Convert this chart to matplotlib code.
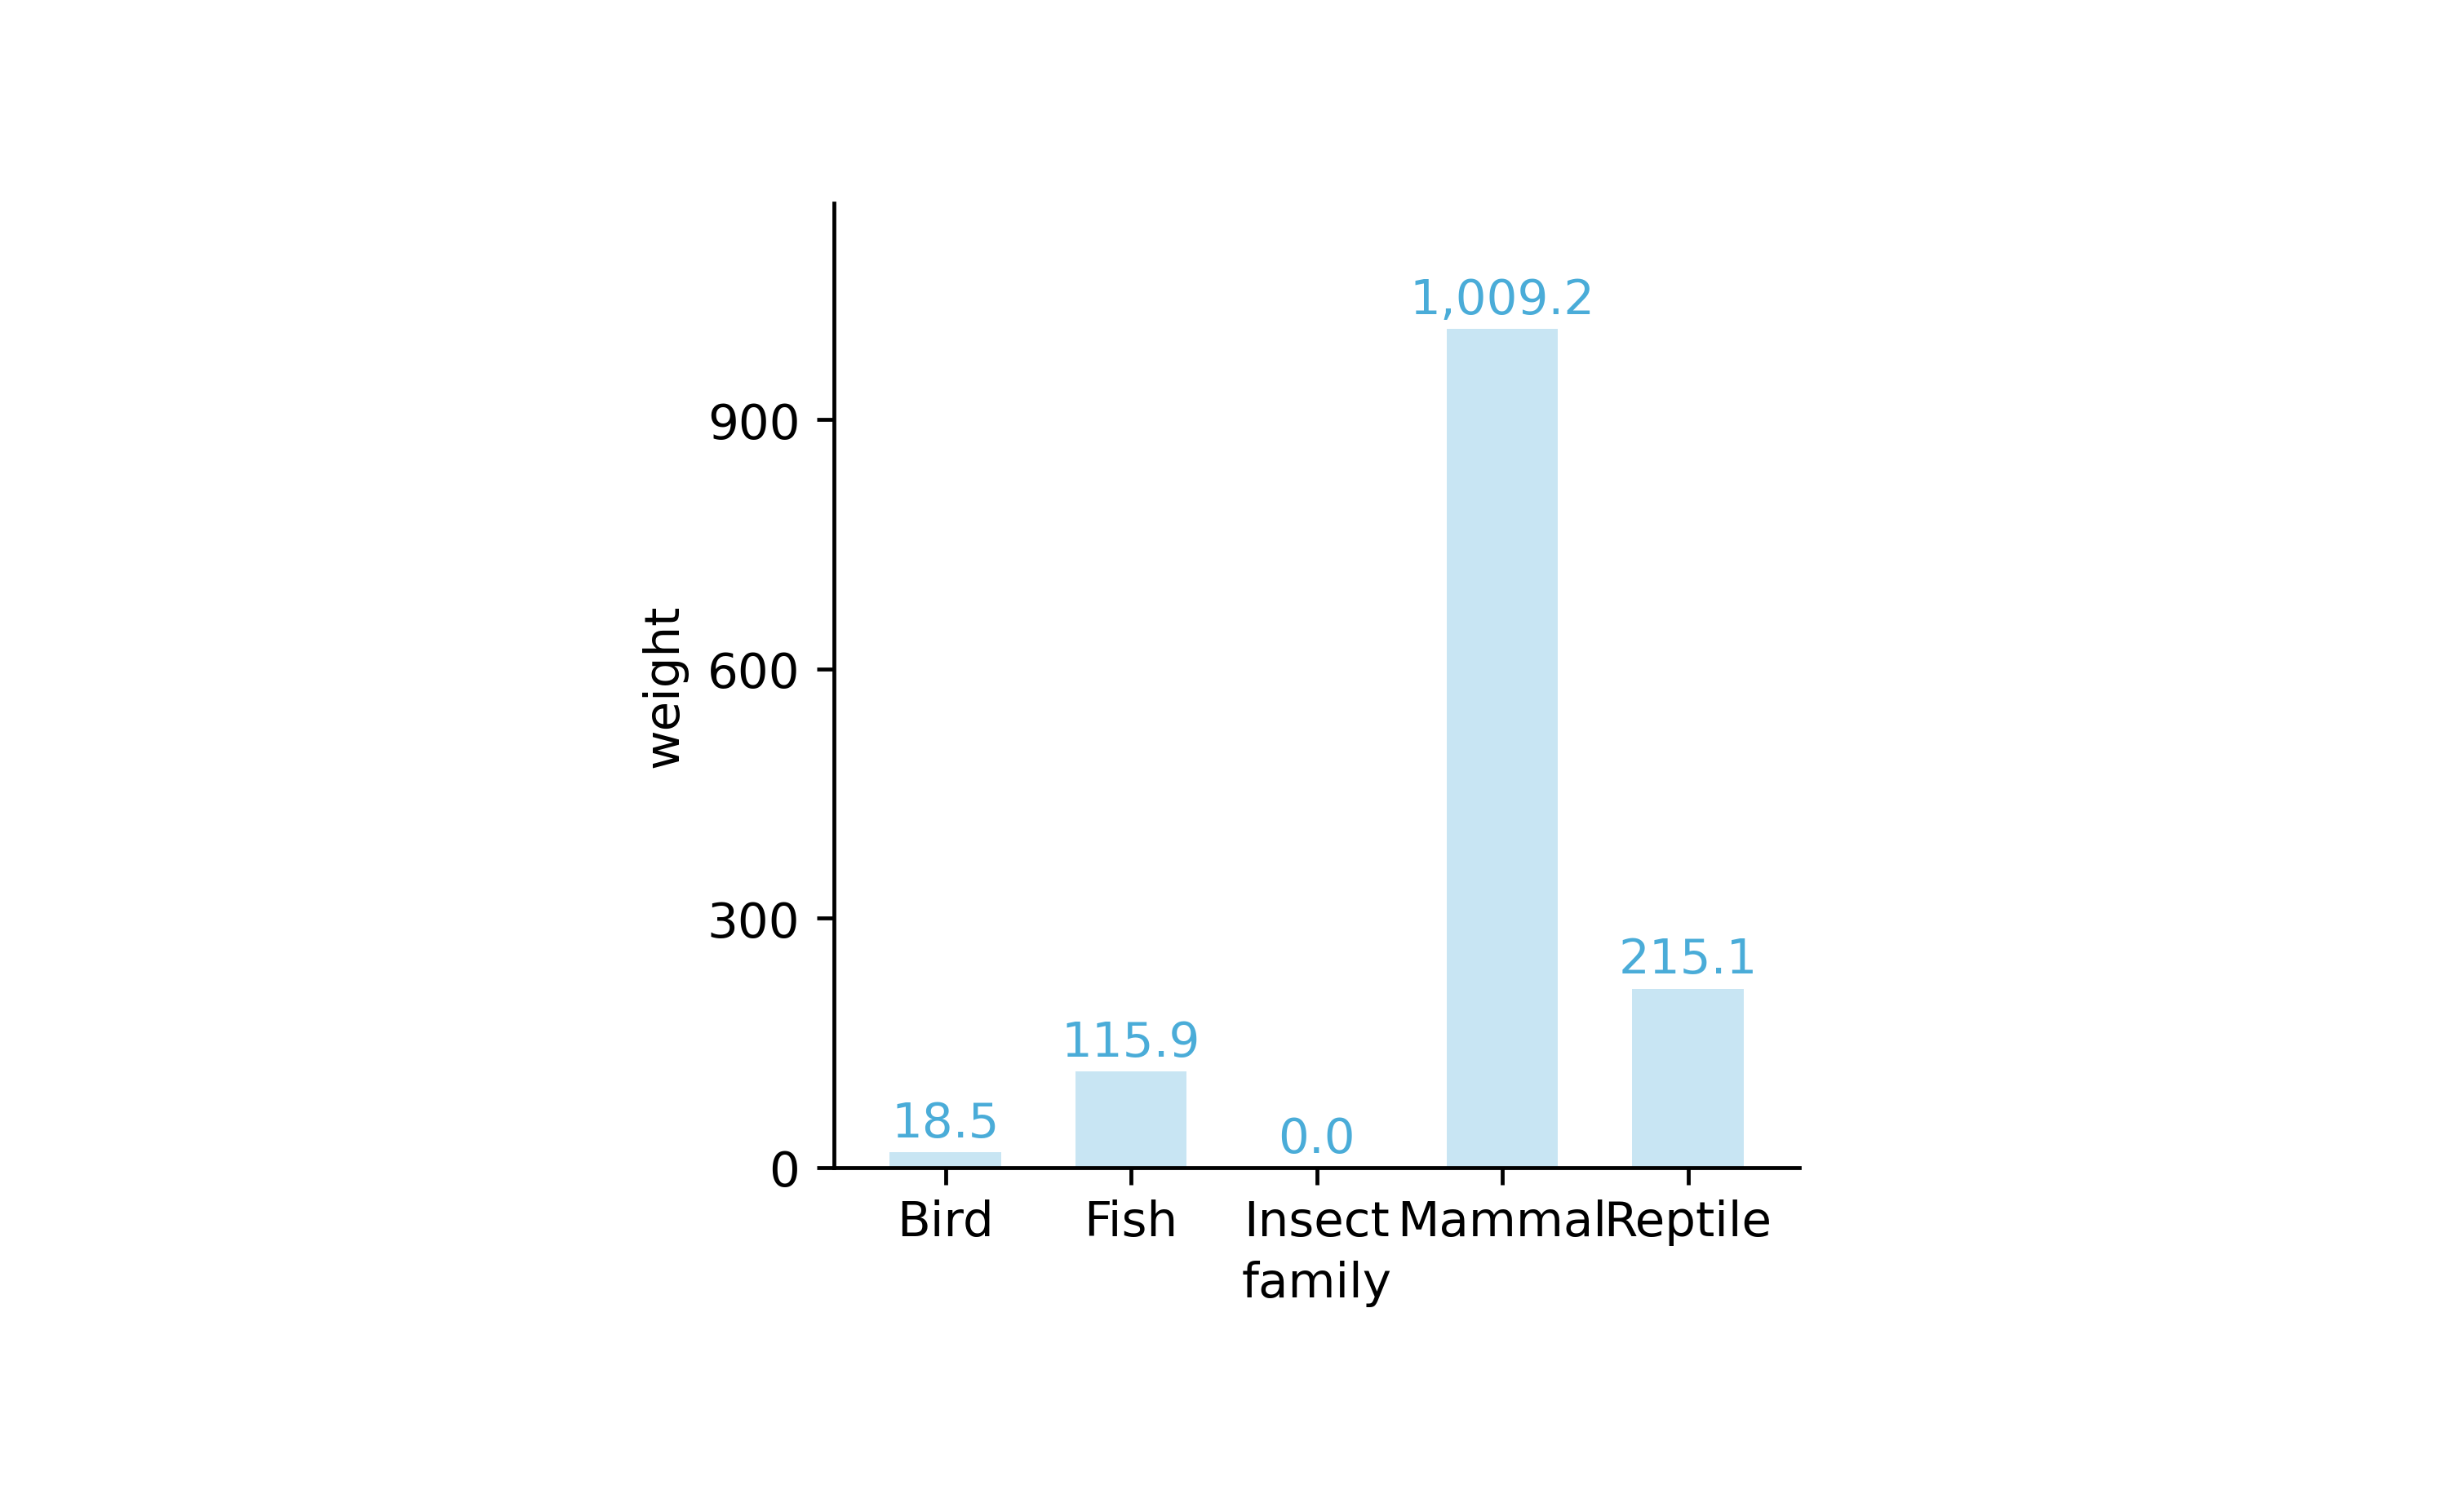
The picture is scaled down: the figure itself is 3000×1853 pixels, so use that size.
import matplotlib
matplotlib.use('Agg')
import matplotlib.pyplot as plt
from matplotlib.ticker import MultipleLocator

families = ['Bird', 'Fish', 'Insect', 'Mammal', 'Reptile']
weights = [18.5, 115.9, 0.0, 1009.2, 215.1]

base_color = '#4aacd8'

fig = plt.figure(figsize=(7, 4.326), dpi=3000 / 7)
ax = fig.add_axes([0.3407, 0.2278, 0.3943, 0.6374])

bars = ax.bar(families, weights, width=0.6, color=base_color, alpha=0.3)
ax.bar_label(bars, labels=['{:,.1f}'.format(w) for w in weights],
             padding=1.2, color=base_color, fontsize=10)

ax.set_xlim(-0.6, len(families) - 0.4)
ax.set_ylim(0, max(weights) * 1.15)
ax.yaxis.set_major_locator(MultipleLocator(300))

ax.set_xlabel('family', labelpad=3)
ax.set_ylabel('weight')
ax.tick_params(axis='x', pad=3)
ax.spines['top'].set_visible(False)
ax.spines['right'].set_visible(False)

fig.savefig('out.png', dpi=3000 / 7)
